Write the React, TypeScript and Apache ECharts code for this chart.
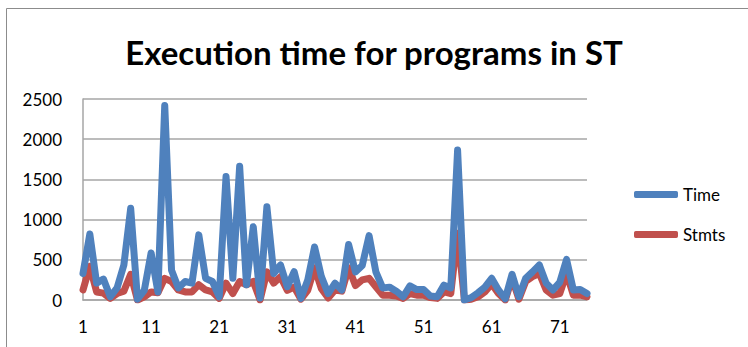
import React, { useEffect, useRef } from "react";
import * as echarts from "echarts";

const categories: string[] = Array.from({ length: 75 }, (_, i) => String(i + 1));

const timeValues: number[] = [
  330, 820, 210, 260, 40, 150, 435, 1140, 10, 120,
  585, 100, 2420, 370, 150, 230, 210, 810, 270, 230,
  40, 1535, 270, 1665, 190, 910, 25, 1160, 330, 435,
  165, 352, 20, 250, 660, 290, 80, 210, 125, 690,
  350, 430, 800, 350, 150, 160, 110, 40, 175, 130,
  130, 50, 40, 185, 150, 1865, 0, 30, 90, 160,
  270, 125, 15, 320, 40, 270, 350, 435, 210, 125,
  220, 505, 125, 130, 80,
];

const stmtsValues: number[] = [
  125, 420, 100, 85, 20, 80, 110, 320, 0, 40,
  100, 90, 270, 230, 125, 100, 100, 190, 125, 100,
  20, 210, 80, 230, 190, 230, 0, 350, 210, 290,
  120, 160, 10, 120, 400, 140, 25, 125, 110, 400,
  180, 250, 270, 165, 60, 60, 50, 20, 80, 60,
  60, 30, 20, 100, 80, 830, 0, 10, 40, 100,
  200, 80, 0, 270, 10, 230, 290, 330, 125, 60,
  80, 330, 60, 60, 40,
];

const yTicks = { min: 0, max: 2500, interval: 500 };

export default function App() {
  const ref = useRef<HTMLDivElement>(null);
  useEffect(() => {
    if (!ref.current) return;
    const chart = echarts.init(ref.current, null, { renderer: "svg" });
    const font = "Lato, 'Open Sans', sans-serif";
    chart.setOption({
      animation: false,
      backgroundColor: "#ffffff",
      textStyle: { fontFamily: font },
      title: {
        text: "Execution time for programs in ST",
        left: "center",
        top: 30,
        textStyle: { fontFamily: font, fontWeight: "bold", fontSize: 33, color: "#000" },
      },
      graphic: [
        {
          type: "rect",
          shape: { x: 6.5, y: 8.5, width: 900, height: 500 },
          style: { fill: "none", stroke: "#8c8c8c", lineWidth: 1 },
          silent: true,
        },
      ],
      legend: {
        orient: "vertical",
        left: 629,
        top: 181,
        itemWidth: 44,
        itemHeight: 7,
        itemGap: 23,
        icon: "roundRect",
        textStyle: { fontFamily: font, fontSize: 17, color: "#000" },
        data: ["Time", "Stmts"],
      },
      grid: { left: 83, right: 161, top: 99, bottom: 47, containLabel: false },
      xAxis: {
        type: "category",
        data: categories,
        boundaryGap: false,
        axisLine: { show: true, lineStyle: { color: "#a6a6a6", width: 1.5 } },
        axisTick: { show: false },
        axisLabel: {
          interval: 9,
          margin: 18,
          fontSize: 17,
          color: "#000",
          fontFamily: font,
        },
        splitLine: { show: false },
      },
      yAxis: {
        type: "value",
        min: yTicks.min,
        max: yTicks.max,
        interval: yTicks.interval,
        axisLine: { show: true, lineStyle: { color: "#a6a6a6", width: 1.5 } },
        axisTick: { show: false },
        axisLabel: {
          margin: 21,
          fontSize: 17,
          color: "#000",
          fontFamily: font,
          formatter: (v: number) => String(v),
        },
        splitLine: { show: true, lineStyle: { color: "#a6a6a6", width: 1.5 } },
      },
      series: [
        {
          name: "Stmts",
          type: "line",
          data: stmtsValues,
          showSymbol: false,
          symbol: "none",
          z: 2,
          itemStyle: { color: "#c0504d" },
          lineStyle: { color: "#c0504d", width: 7, join: "round", cap: "round" },
        },
        {
          name: "Time",
          type: "line",
          data: timeValues,
          showSymbol: false,
          symbol: "none",
          z: 3,
          itemStyle: { color: "#4f81bd" },
          lineStyle: { color: "#4f81bd", width: 7, join: "round", cap: "round" },
        },
      ],
    });
    return () => chart.dispose();
  }, []);
  return <div ref={ref} style={{ width: 748, height: 347, position: "absolute", left: 0, top: 0 }} />;
}
